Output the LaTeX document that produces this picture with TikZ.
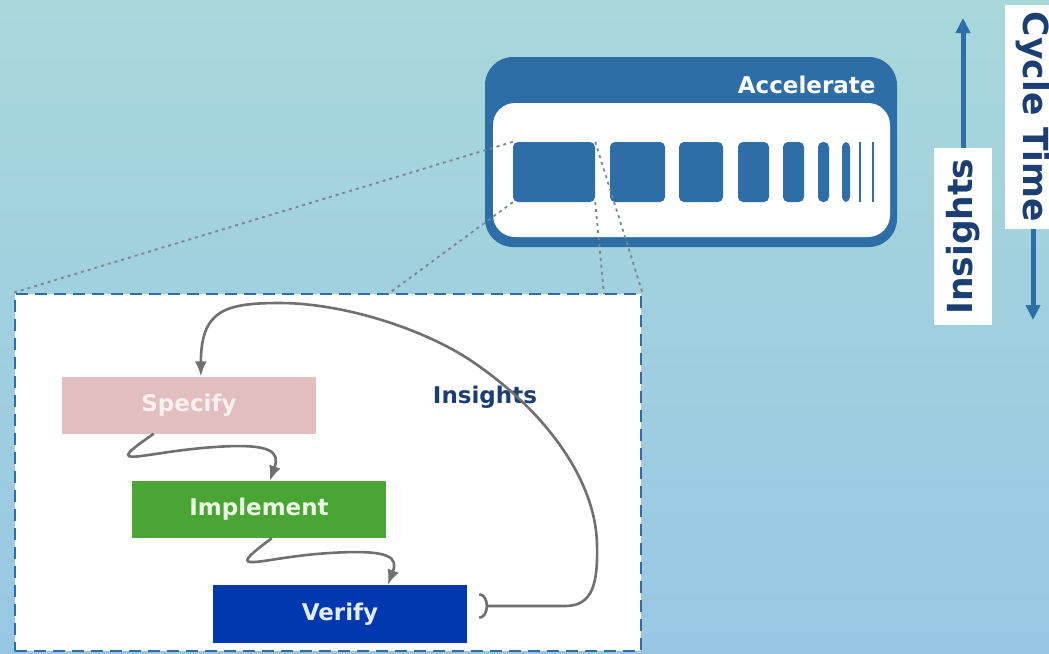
\documentclass[tikz,border=0pt]{standalone}
\usepackage{fontspec}
\setmainfont{DejaVu Sans}
\usetikzlibrary{arrows.meta}

\definecolor{bgtop}{RGB}{168,216,218}
\definecolor{bgbot}{RGB}{152,199,228}
\definecolor{accblue}{RGB}{46,110,166}
\definecolor{navy}{RGB}{27,62,115}
\definecolor{specpink}{RGB}{226,190,190}
\definecolor{implgreen}{RGB}{74,165,52}
\definecolor{verblue}{RGB}{0,56,176}
\definecolor{loopgray}{RGB}{112,112,112}
\definecolor{projgray}{RGB}{120,135,148}

\tikzset{
  big/.style={font=\bfseries\fontsize{34.5}{34.5}\selectfont},
  lbl/.style={font=\bfseries\fontsize{23}{24}\selectfont},
  stepbox/.style={lbl, inner sep=0, minimum width=254pt, minimum height=57pt},
  bar/.style={fill=accblue, rounded corners=5pt, inner sep=0, minimum height=60pt},
  sidebox/.style={big, fill=white, text=navy, inner sep=0},
  proj/.style={projgray, line width=1.8pt, dash pattern=on 3pt off 4pt},
  gray line/.style={loopgray, line width=2.6pt},
  flow/.style={gray line, -{Latex[length=15pt,width=12pt]}},
  sidearrow/.style={accblue, line width=5pt, -{Triangle[length=15pt,width=14pt]}}
}

\begin{document}
\begin{tikzpicture}[x=1pt, y=-1pt]
    \useasboundingbox (0,0) rectangle (1049,653);
    \fill[top color=bgtop, bottom color=bgbot] (0,0) rectangle (1049,653);

    \node[draw=accblue, dash pattern=on 12pt off 7pt, line width=2.8pt, fill=white,
          minimum width=626pt, minimum height=357pt, inner sep=0] (detail) at (328,472.5) {};

    \node[fill=accblue, rounded corners=28pt, minimum width=412pt, minimum height=190pt, inner sep=0] (accel) at (691,152) {};
    \node[fill=white, rounded corners=22pt, minimum width=397pt, minimum height=134pt, inner sep=0] (lane) at (691.5,170) {};
    \node[lbl, text=white, anchor=east] (acctitle) at (879,85) {Accelerate};

    \coordinate (pl) at (388,294);
    \coordinate (pr) at (604,294);

    \foreach \l/\r [count=\i] in {513/595, 610/665, 679/723, 738/769, 783/804, 818/829, 842/850}
        \node[bar, minimum width={(\r-\l)*1pt}] (b\i) at ({(\l+\r)/2},172) {};
    \foreach \x in {860, 873}
        \draw[accblue, line width=2.8pt] (\x,142) -- (\x,202);

    \draw[proj] (b1.north west) -- (detail.north west);
    \draw[proj] (b1.south west) -- (pl);
    \draw[proj] (b1.south east) -- (pr);
    \draw[proj] (b1.north east) -- (detail.north east);

    \node[sidebox, minimum width=58pt, minimum height=177pt] (ins) at (963,236.5) {\rotatebox{90}{Insights}};
    \node[sidebox, minimum width=56pt, minimum height=224pt] (cyc) at (1033,117) {\rotatebox{-90}{Cycle Time}};
    \coordinate (instip) at (963,18);
    \coordinate (cyctip) at (1033,320);
    \draw[sidearrow] (ins.north) -- (instip);
    \draw[sidearrow] (cyc.south) -- (cyctip);

    \node[stepbox, fill=specpink, text={rgb,255:red,250;green,240;blue,240}] (spec) at (189,405) {Specify};
    \node[stepbox, fill=implgreen, text={rgb,255:red,235;green,248;blue,228}] (impl) at (259,509.5) {Implement};
    \node[stepbox, fill=verblue, text={rgb,255:red,228;green,236;blue,255}, minimum height=58pt] (ver) at (340,614) {Verify};
    \node[lbl, text=navy] (inslbl) at (485,397) {Insights};

    \draw[flow] ([xshift=92pt]spec.south west) .. controls (98,472) and (140,452) .. (215,447)
        .. controls (272,443) and (280,452) .. ([xshift=208pt]spec.south west |- impl.north);
    \draw[flow] ([xshift=140pt]impl.south west) .. controls (218,578) and (260,557) .. (330,553)
        .. controls (392,549) and (398,558) .. ([xshift=256pt]impl.south west |- ver.north);
    \draw[gray line, {Arc Barb[length=9pt,width=26pt,reversed]}-{Latex[length=15pt,width=12pt]}]
        ([xshift=12pt,yshift=8pt]ver.east) -- (565,606)
        .. controls (592,606) and (598,585) .. (597,545)
        .. controls (596,480) and (545,410) .. (470,360)
        .. controls (420,327) and (340,303) .. (280,303)
        .. controls (225,303) and (201,310) .. ([xshift=139pt]spec.north west);
\end{tikzpicture}
\end{document}
